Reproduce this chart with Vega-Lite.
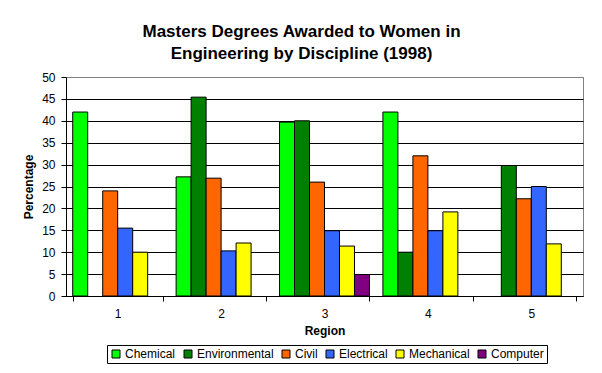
{
  "$schema": "https://vega.github.io/schema/vega-lite/v6.json",
  "width": 517,
  "height": 219,
  "autosize": {"type": "none"},
  "padding": {"left": 66, "top": 77, "right": 19, "bottom": 77},
  "background": "white",
  "title": {
    "text": ["Masters Degrees Awarded to Women in", "Engineering by Discipline (1998)"],
    "font": "Liberation Sans",
    "fontSize": 17,
    "fontWeight": "bold",
    "color": "black",
    "anchor": "middle",
    "dx": -23,
    "offset": 8,
    "lineHeight": 22
  },
  "data": {
    "values": [
      {"Region": "1", "Discipline": "Chemical", "Percentage": 42.0},
      {"Region": "1", "Discipline": "Civil", "Percentage": 24.0},
      {"Region": "1", "Discipline": "Electrical", "Percentage": 15.5},
      {"Region": "1", "Discipline": "Mechanical", "Percentage": 10.0},
      {"Region": "2", "Discipline": "Chemical", "Percentage": 27.2},
      {"Region": "2", "Discipline": "Environmental", "Percentage": 45.4},
      {"Region": "2", "Discipline": "Civil", "Percentage": 26.9},
      {"Region": "2", "Discipline": "Electrical", "Percentage": 10.3},
      {"Region": "2", "Discipline": "Mechanical", "Percentage": 12.1},
      {"Region": "3", "Discipline": "Chemical", "Percentage": 39.7},
      {"Region": "3", "Discipline": "Environmental", "Percentage": 40.0},
      {"Region": "3", "Discipline": "Civil", "Percentage": 26.0},
      {"Region": "3", "Discipline": "Electrical", "Percentage": 14.9},
      {"Region": "3", "Discipline": "Mechanical", "Percentage": 11.4},
      {"Region": "3", "Discipline": "Computer", "Percentage": 4.9},
      {"Region": "4", "Discipline": "Chemical", "Percentage": 42.0},
      {"Region": "4", "Discipline": "Environmental", "Percentage": 10.0},
      {"Region": "4", "Discipline": "Civil", "Percentage": 32.0},
      {"Region": "4", "Discipline": "Electrical", "Percentage": 14.9},
      {"Region": "4", "Discipline": "Mechanical", "Percentage": 19.2},
      {"Region": "5", "Discipline": "Environmental", "Percentage": 29.8},
      {"Region": "5", "Discipline": "Civil", "Percentage": 22.2},
      {"Region": "5", "Discipline": "Electrical", "Percentage": 25.0},
      {"Region": "5", "Discipline": "Mechanical", "Percentage": 11.9}
    ]
  },
  "mark": {"type": "bar", "stroke": "black", "strokeWidth": 1},
  "encoding": {
    "x": {
      "field": "Region",
      "type": "nominal",
      "scale": {"paddingInner": 0.13, "paddingOuter": 0.065},
      "axis": {
        "title": "Region",
        "labelAngle": 0,
        "tickBand": "extent",
        "tickSize": 5,
        "labelPadding": 7,
        "titlePadding": 6
      }
    },
    "xOffset": {
      "field": "Discipline",
      "type": "nominal",
      "scale": {"domain": ["Chemical", "Environmental", "Civil", "Electrical", "Mechanical", "Computer"], "paddingInner": 0, "paddingOuter": 0}
    },
    "y": {
      "field": "Percentage",
      "type": "quantitative",
      "scale": {"domain": [0, 50], "nice": false},
      "axis": {
        "title": "Percentage",
        "values": [0, 5, 10, 15, 20, 25, 30, 35, 40, 45, 50],
        "grid": true,
        "gridColor": {"condition": {"test": "datum.value == 50", "value": "#808080"}, "value": "black"},
        "tickSize": 5,
        "labelPadding": 6,
        "titlePadding": 6
      }
    },
    "color": {
      "field": "Discipline",
      "type": "nominal",
      "scale": {
        "domain": ["Chemical", "Environmental", "Civil", "Electrical", "Mechanical", "Computer"],
        "range": ["#00FF00", "#008000", "#FF6600", "#3366FF", "#FFFF00", "#800080"]
      },
      "legend": {
        "title": null,
        "orient": "none",
        "direction": "horizontal",
        "legendX": 41,
        "legendY": 268,
        "symbolType": "square",
        "symbolSize": 64,
        "symbolStrokeColor": "black",
        "symbolStrokeWidth": 1,
        "symbolOpacity": 1,
        "labelFont": "Liberation Sans",
        "labelFontSize": 12,
        "labelColor": "black",
        "labelOffset": 3,
        "columnPadding": 6,
        "strokeColor": "black",
        "padding": 3
      }
    }
  },
  "config": {
    "view": {"stroke": "#808080", "strokeWidth": 1},
    "axis": {
      "domainColor": "black",
      "tickColor": "black",
      "gridWidth": 1,
      "gridOpacity": 1,
      "labelFont": "Liberation Sans",
      "labelFontSize": 12,
      "labelColor": "black",
      "titleFont": "Liberation Sans",
      "titleFontSize": 12,
      "titleFontWeight": "bold",
      "titleColor": "black"
    }
  }
}
